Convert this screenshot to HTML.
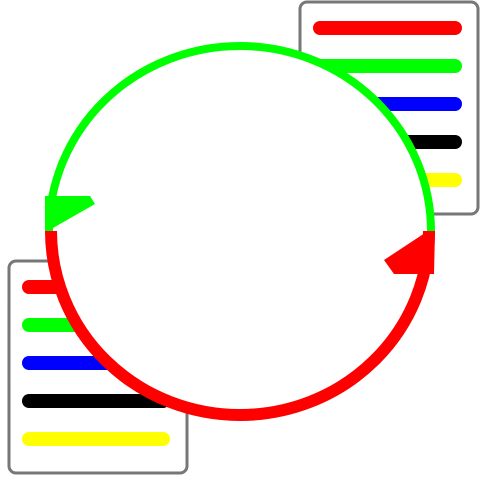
<!DOCTYPE html>
<html><head><meta charset="utf-8"><style>html,body{margin:0;padding:0;background:#fff}svg{display:block}</style></head>
<body>
<svg id="c" width="480" height="480" viewBox="0 0 480 480"></svg>
<script>
const seriesColors = ["#ff0000","#00ff00","#0000ff","#000000","#ffff00"];
const arcStarts = [180, 0];
const arcEnds = [360, 180];
const arcColors = ["#00ff00", "#ff0000"];
const arcWidths = [8, 12];
const arcNames = ["green-arc", "red-arc"];

const NS = "http://www.w3.org/2000/svg";
const svg = document.getElementById("c");
function mk(t, a){const e=document.createElementNS(NS,t);for(const k in a)e.setAttribute(k,a[k]);svg.appendChild(e);return e;}
const cx=240, cy=231, rx=191, ry=185;
function pt(r1,r2,deg){const a=deg*Math.PI/180;return [cx+r1*Math.cos(a), cy-r2*Math.sin(a)];}

const legends=[{x:300,y:2,lx1:320,lx2:455,ly:28},{x:9,y:261,lx1:29,lx2:163,ly:287}];
legends.forEach((L,i)=>{
  const b=mk("rect",{x:L.x,y:L.y,width:178,height:212,rx:7,fill:"#fff",stroke:"#777","stroke-width":3});
  
  
  seriesColors.forEach((c,j)=>{
    const l=mk("line",{x1:L.lx1,x2:L.lx2,y1:L.ly+j*38,y2:L.ly+j*38,stroke:c,"stroke-width":14,"stroke-linecap":"round"});
    
    
  });
});

const disc=mk("ellipse",{cx:cx,cy:cy,rx:rx,ry:ry,fill:"#fff"});



arcStarts.forEach((s,i)=>{
  const r1 = arcWidths[i]===8 ? rx : rx-2;
  const r2 = arcWidths[i]===8 ? ry : ry-1;
  const [x1,y1]=pt(r1,r2,s), [x2,y2]=pt(r1,r2,arcEnds[i]);
  const p=mk("path",{d:`M${x1},${y1} A${r1},${r2} 0 0 1 ${x2},${y2}`,fill:"none",stroke:arcColors[i],"stroke-width":arcWidths[i]});
  
  
});
const g=mk("polygon",{points:"45,196 90,196 95,204 53,228 45,231",fill:"#00ff00"});


const r=mk("polygon",{points:"428,231 435,231 434,274 394,274 384,260",fill:"#ff0000"});


</script>
</body></html>
